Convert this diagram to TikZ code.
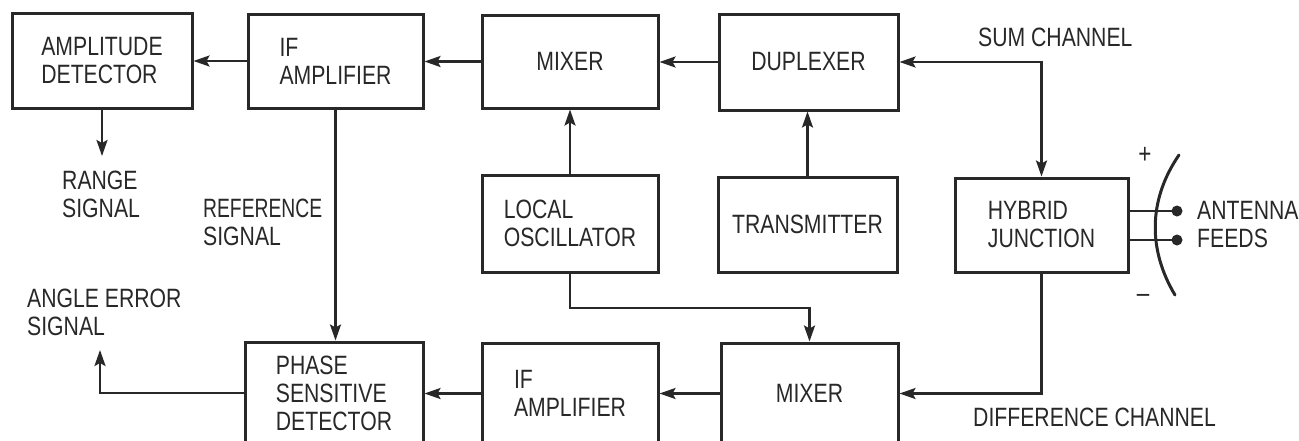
\documentclass[tikz,border=0pt]{standalone}
\usepackage{fontspec}
\usepackage{graphicx}
\setmainfont{Liberation Sans}[FakeStretch=0.8]
\usetikzlibrary{arrows.meta}
\definecolor{ink}{RGB}{40,40,40}
\newcommand\diagfont{\fontsize{26.5}{28}\selectfont}
\begin{document}
\begin{tikzpicture}[x=1pt,y=-1pt,
  box/.style={draw=ink, line width=3pt, align=left, inner sep=0pt, text=ink, font=\diagfont},
  lab/.style={align=left, inner sep=0pt, text=ink, font=\diagfont},
  conn/.style={draw=ink, line width=2.3pt},
  >={Stealth[length=16pt,width=11pt,inset=3pt]}]
\useasboundingbox (0,0) rectangle (1299,440);
\clip (0,0) rectangle (1299,440);
\fill[white] (0,0) rectangle (1299,440);
% boxes
\node[box, minimum width=180pt, minimum height=95pt] (ad)  at (102,60.5)   {AMPLITUDE\\DETECTOR};
\node[box, minimum width=175pt, minimum height=94pt] (ifa) at (335.5,61)   {IF\\AMPLIFIER};
\node[box, minimum width=176pt, minimum height=93pt] (mx1) at (570,61.5)   {MIXER};
\node[box, minimum width=179pt, minimum height=96pt] (dup) at (808.5,62)   {DUPLEXER};
\node[box, minimum width=176pt, minimum height=97pt] (lo)  at (570,223.5)  {LOCAL\\OSCILLATOR};
\node[box, minimum width=179pt, minimum height=95pt] (tx)  at (807.5,224.5){TRANSMITTER};
\node[box, minimum width=173pt, minimum height=94pt] (hyb) at (1041.5,225) {HYBRID\\JUNCTION};
\node[box, minimum width=178pt, minimum height=102pt] (psd) at (334,393)   {PHASE\\SENSITIVE\\DETECTOR};
\node[box, minimum width=176pt, minimum height=101pt] (ifb) at (570,393.5) {IF\\AMPLIFIER};
\node[box, minimum width=177pt, minimum height=101pt] (mx2) at (809.5,393.5){MIXER};
% free ends
\coordinate (rg) at (102,156);
\coordinate (ae) at (100,350);
\coordinate (lj) at (570,308);
\coordinate (f1) at (1177,211);
\coordinate (f2) at (1177,240);
\coordinate (dtop) at (1179,155);
\coordinate (dbot) at (1175,295);
% connectors
\draw[conn,->] (ifa.west) -- (ifa.west -| ad.east);
\draw[conn,->] (mx1.west) -- (mx1.west -| ifa.east);
\draw[conn,->] (dup.west) -- (dup.west -| mx1.east);
\draw[conn,->] (lo.north) -- (lo.north |- mx1.south);
\draw[conn,->] (tx.north) -- (tx.north |- dup.south);
\draw[conn,->] (ad.south) -- (rg);
\draw[conn,->] (ifa.south) -- (ifa.south |- psd.north);
\draw[conn,->] (lo.south) -- (lj) -| (mx2.north);
\draw[conn,->] (mx2.west) -- (mx2.west -| ifb.east);
\draw[conn,->] (ifb.west) -- (ifb.west -| psd.east);
\draw[conn,->] (psd.west) -| (ae);
\draw[conn,->] (hyb.south) |- (mx2.east);
\draw[conn,<->] (dup.east) -| (hyb.north);
% antenna
\draw[conn] (hyb.east |- f1) -- (f1);
\draw[conn] (hyb.east |- f2) -- (f2);
\fill[ink] (f1) circle[radius=5.5pt];
\fill[ink] (f2) circle[radius=5.5pt];
\draw[ink, line width=3pt, line cap=round] (dtop) .. controls (1148,200) and (1148,250) .. (dbot);
% labels
\node[lab, anchor=west] (sumlab)   at (978,37)   {SUM CHANNEL};
\node[lab, anchor=west] (difflab)  at (973,417)  {DIFFERENCE CHANNEL};
\node[lab, anchor=west] (rangelab) at (62,194)   {RANGE\\SIGNAL};
\node[lab, anchor=west] (reflab)   at (203,222)  {\scalebox{0.91}[1]{REFERENCE}\\SIGNAL};
\node[lab, anchor=west] (anglab)   at (27,312)   {ANGLE ERROR\\SIGNAL};
\node[lab, anchor=west] (antlab)   at (1197,225) {ANTENNA\\FEEDS};
\node[lab, font=\fontsize{28}{30}\selectfont] (plus)  at (1145,155) {+};
\node[lab, font=\fontsize{28}{30}\selectfont] (minus) at (1143,298) {–};
\end{tikzpicture}
\end{document}
